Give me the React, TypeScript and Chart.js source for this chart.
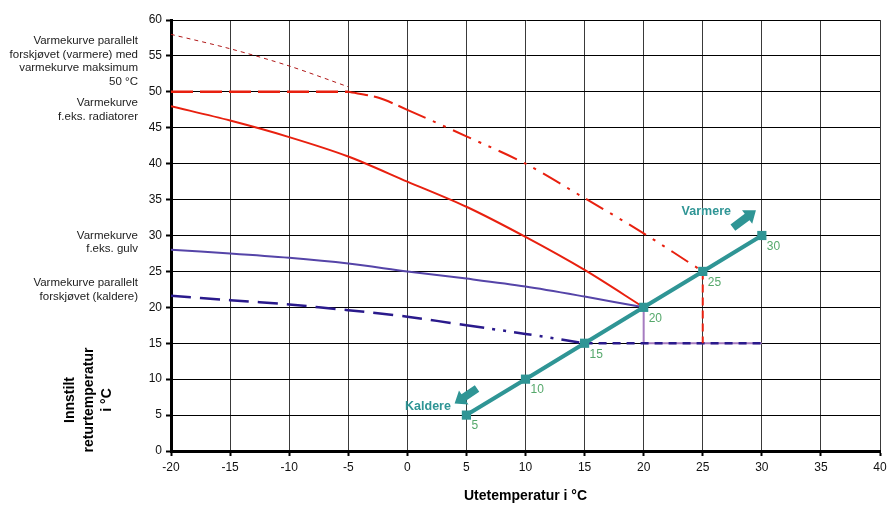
import React, { useEffect, useRef } from 'react';
import { Chart, registerables } from 'chart.js';
Chart.register(...registerables);

const FONT = '"Liberation Sans", Arial, sans-serif';

const xTickValues = [-20, -15, -10, -5, 0, 5, 10, 15, 20, 25, 30, 35, 40];
const yTickValues = [0, 5, 10, 15, 20, 25, 30, 35, 40, 45, 50, 55, 60];

const radiatorX = [-20, -15, -10, -5, 0, 5, 10, 15, 20];
const radiatorY = [48, 46, 43.7, 41, 37.5, 34, 29.8, 25.2, 20];

const floorX = [-20, -15, -10, -5, 0, 5, 10, 15, 20];
const floorY = [28, 27.5, 26.9, 26.1, 25, 24, 22.9, 21.5, 20];

const colderX = [-20, -15, -10, -5, 0, 5, 10, 15];
const colderY = [21.6, 21.0, 20.4, 19.6, 18.7, 17.5, 16.3, 15];

const colderFlatX = [15, 30];
const colderFlatY = [15, 15];

const warmerCapX = [-20, -5];
const warmerCapY = [50, 50];

const warmerX = [-5, -2.5, 0, 5, 10, 15, 20, 25];
const warmerY = [50, 49.2, 47.5, 43.8, 40, 35.2, 30.3, 25];

const uncappedX = [-20, -15, -10, -5];
const uncappedY = [58, 56, 53.6, 50.7];

const settingX = [5, 10, 15, 20, 25, 30];
const settingY = [5, 10, 15, 20, 25, 30];
const settingLabels = ['5', '10', '15', '20', '25', '30'];

const floorDropX = [20, 20, 30];
const floorDropY = [20, 15, 15];

const warmerDropX = [25, 25];
const warmerDropY = [25, 15];

const leftNotes: { text: string[]; y: number }[] = [
  { text: ['Varmekurve parallelt', 'forskjøvet (varmere) med', 'varmekurve maksimum', '50 °C'], y: 57.1 },
  { text: ['Varmekurve', 'f.eks. radiatorer'], y: 48.4 },
  { text: ['Varmekurve', 'f.eks. gulv'], y: 30.0 },
  { text: ['Varmekurve parallelt', 'forskjøvet (kaldere)'], y: 23.4 },
];

const pts = (xs: number[], ys: number[]) => xs.map((x, i) => ({ x, y: ys[i] }));

const RED = '#e8200f';
const TEAL = '#2f9595';
const GREEN = '#55a86b';

function drawArrow(ctx: CanvasRenderingContext2D, x0: number, y0: number, x1: number, y1: number, bw: number, hw: number, hl: number, color: string) {
  const dx = x1 - x0, dy = y1 - y0;
  const len = Math.hypot(dx, dy);
  const ux = dx / len, uy = dy / len;
  const nx = -uy, ny = ux;
  const bx = x1 - ux * hl, by = y1 - uy * hl;
  ctx.beginPath();
  ctx.moveTo(x0 + nx * bw / 2, y0 + ny * bw / 2);
  ctx.lineTo(bx + nx * bw / 2, by + ny * bw / 2);
  ctx.lineTo(bx + nx * hw / 2, by + ny * hw / 2);
  ctx.lineTo(x1, y1);
  ctx.lineTo(bx - nx * hw / 2, by - ny * hw / 2);
  ctx.lineTo(bx - nx * bw / 2, by - ny * bw / 2);
  ctx.lineTo(x0 - nx * bw / 2, y0 - ny * bw / 2);
  ctx.closePath();
  ctx.fillStyle = color;
  ctx.fill();
}

const annotations = {
  id: 'annotations',
  afterDatasetsDraw(chart: any) {
    const ctx: CanvasRenderingContext2D = chart.ctx;
    const xs = chart.scales.x, ys = chart.scales.y;
    ctx.save();
    ctx.font = `12px ${FONT}`;
    ctx.fillStyle = GREEN;
    ctx.textAlign = 'left';
    ctx.textBaseline = 'middle';
    settingX.forEach((v, i) => {
      const px = xs.getPixelForValue(v), py = ys.getPixelForValue(settingY[i]);
      ctx.fillText(settingLabels[i], px + 5, py + 11);
    });
    drawArrow(ctx, xs.getPixelForValue(27.55), ys.getPixelForValue(31.1), xs.getPixelForValue(29.5), ys.getPixelForValue(33.5), 8, 17, 11, TEAL);
    drawArrow(ctx, xs.getPixelForValue(5.9), ys.getPixelForValue(8.7), xs.getPixelForValue(4.0), ys.getPixelForValue(6.6), 8, 17, 11, TEAL);
    ctx.font = `bold 12.5px ${FONT}`;
    ctx.fillStyle = TEAL;
    ctx.textAlign = 'center';
    ctx.fillText('Varmere', xs.getPixelForValue(25.3), ys.getPixelForValue(33.3));
    ctx.fillText('Kaldere', xs.getPixelForValue(1.75), ys.getPixelForValue(6.2));
    ctx.restore();
  },
  afterDraw(chart: any) {
    const ctx: CanvasRenderingContext2D = chart.ctx;
    const ys = chart.scales.y;
    const area = chart.chartArea;
    ctx.save();
    ctx.font = `11.5px ${FONT}`;
    ctx.fillStyle = '#222';
    ctx.textAlign = 'right';
    ctx.textBaseline = 'middle';
    leftNotes.forEach((n) => {
      const y0 = ys.getPixelForValue(n.y);
      n.text.forEach((t, i) => ctx.fillText(t, 138, y0 + i * 13.5));
    });
    ctx.font = `bold 14px ${FONT}`;
    ctx.fillStyle = '#000';
    ctx.textAlign = 'center';
    ctx.translate(89, 400);
    ctx.rotate(-Math.PI / 2);
    ['Innstilt', 'returtemperatur', 'i °C'].forEach((t, i) => ctx.fillText(t, 0, (i - 1) * 18.5));
    ctx.setTransform(1, 0, 0, 1, 0, 0);
    ctx.fillText('Utetemperatur i °C', (area.left + area.right) / 2, 496);
    ctx.restore();
  },
};

export default function App() {
  const ref = useRef<HTMLCanvasElement>(null);
  useEffect(() => {
    if (!ref.current) return;
    const base = { fill: false, pointRadius: 0, tension: 0.3, borderCapStyle: 'butt' as const };
    const chart = new Chart(ref.current, {
      type: 'line',
      data: {
        datasets: [
          { ...base, order: 10, data: pts(uncappedX, uncappedY), borderColor: '#b01818', borderWidth: 1, borderDash: [4, 4] },
          { ...base, order: 9, data: pts(warmerCapX, warmerCapY), borderColor: RED, borderWidth: 2.5, borderDash: [22, 7], tension: 0 },
          {
            ...base, order: 8, data: pts(warmerX, warmerY), borderColor: RED, borderWidth: 2,
            segment: { borderDash: (c: any) => (c.p0.parsed.x < 0 ? [20, 6] : [20, 8, 3, 8, 3, 8]) },
          },
          { ...base, order: 7, data: pts(radiatorX, radiatorY), borderColor: RED, borderWidth: 2 },
          { ...base, order: 6, data: pts(floorX, floorY), borderColor: '#5544a8', borderWidth: 2 },
          { ...base, order: 5, data: pts(floorDropX, floorDropY), borderColor: '#a67cc0', borderWidth: 2, tension: 0 },
          {
            ...base, order: 4, data: pts(colderX, colderY), borderColor: '#2a1a8c', borderWidth: 2.5,
            segment: { borderDash: (c: any) => (c.p0.parsed.x < 5 ? [20, 9] : [18, 8, 3, 8, 3, 8]) },
          },
          { ...base, order: 3, data: pts(colderFlatX, colderFlatY), borderColor: '#2a1a8c', borderWidth: 2.5, borderDash: [8, 6], tension: 0 },
          { ...base, order: 2, data: pts(warmerDropX, warmerDropY), borderColor: RED, borderWidth: 2, borderDash: [8, 5], tension: 0 },
          {
            ...base, order: 1, data: pts(settingX, settingY), borderColor: TEAL, borderWidth: 4, tension: 0,
            pointRadius: 6.5, pointStyle: 'rect', pointBackgroundColor: TEAL, pointBorderColor: TEAL, pointBorderWidth: 0,
          },
        ],
      },
      options: {
        animation: false,
        responsive: false,
        events: [],
        layout: { padding: { left: 0, top: 20, right: 7, bottom: 0 } },
        plugins: { legend: { display: false }, tooltip: { enabled: false } },
        scales: {
          x: {
            type: 'linear', min: -20, max: 40,
            afterBuildTicks: (s: any) => { s.ticks = xTickValues.map((v) => ({ value: v })); },
            afterFit: (s: any) => { s.height = 56; s.paddingRight = 0; s.paddingLeft = 0; },
            ticks: { color: '#111', font: { family: FONT, size: 12 }, padding: 4, autoSkip: false, maxRotation: 0 },
            grid: { color: '#3a3a3a', lineWidth: 1, tickLength: 5, tickColor: '#000', tickWidth: 2 },
            border: { color: '#000', width: 3 },
          },
          y: {
            type: 'linear', min: 0, max: 60,
            afterBuildTicks: (s: any) => { s.ticks = yTickValues.map((v) => ({ value: v })); },
            afterFit: (s: any) => { s.width = 171; s.paddingTop = 0; s.paddingBottom = 0; },
            ticks: { color: '#111', font: { family: FONT, size: 12 }, padding: 4, autoSkip: false },
            grid: { color: '#000', lineWidth: 1, tickLength: 5, tickColor: '#000', tickWidth: 2 },
            border: { color: '#000', width: 3 },
          },
        },
      },
      plugins: [annotations],
    });
    return () => chart.destroy();
  }, []);
  return (
    <div style={{ position: 'fixed', left: 0, top: 0, width: 887, height: 507, background: '#fff' }}>
      <canvas ref={ref} width={887} height={507} style={{ display: 'block' }} />
    </div>
  );
}
